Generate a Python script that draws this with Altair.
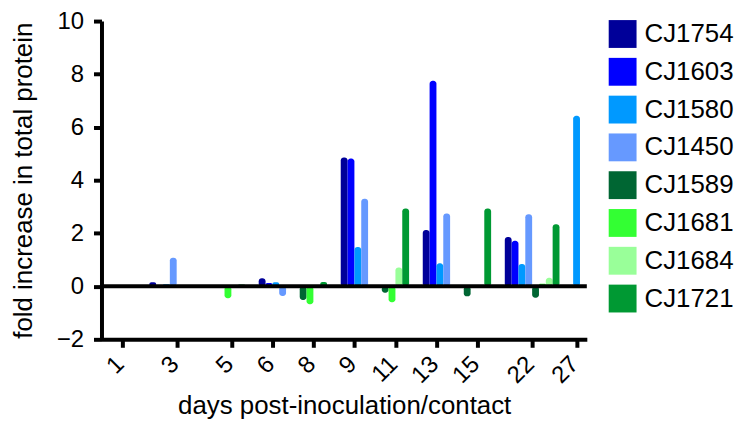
import altair as alt
import pandas as pd

days = ["1", "3", "5", "6", "8", "9", "11", "13", "15", "22", "27"]
series = ["CJ1754", "CJ1603", "CJ1580", "CJ1450", "CJ1589", "CJ1681", "CJ1684", "CJ1721"]
colors = ["#000099", "#0000ff", "#0099ff", "#6699ff", "#006633", "#33ff33", "#99ff99", "#009933"]

N = None
# fold increase per day (None = not sampled that day)
cj1754 = [0, 0.15, N, 0.30, N, 4.86, N, 2.12, N, 1.86, N]
cj1603 = [0, 0.00, N, 0.12, N, 4.82, N, 7.75, N, 1.72, N]
cj1580 = [0, 0.08, N, 0.15, N, 1.48, N, 0.87, N, 0.84, 6.43]
cj1450 = [0, 1.08, N, -0.37, N, 3.30, N, 2.74, N, 2.72, N]
cj1589 = [N, 0, -0.05, N, -0.52, N, -0.24, N, -0.38, -0.43, N]
cj1681 = [N, 0, -0.45, N, -0.68, N, -0.60, N, 0.00, 0.10, N]
cj1684 = [N, 0, 0.02, N, 0.00, N, 0.71, N, -0.05, 0.32, N]
cj1721 = [N, 0, 0.07, N, 0.16, N, 2.93, N, 2.93, 2.34, N]
all_vals = [cj1754, cj1603, cj1580, cj1450, cj1589, cj1681, cj1684, cj1721]

# lay bars side by side, one slot per sampled series, gap of 2 slots between days
rows = []
tick_pos = []
cursor = 0
for i, d in enumerate(days):
    start = cursor
    for s, vals in zip(series, all_vals):
        v = vals[i]
        if v is None:
            continue
        rows.append(dict(day=d, series=s, value=v, pos=cursor))
        cursor += 1
    tick_pos.append((start + cursor) / 2)
    cursor += 2

df = pd.DataFrame(rows)

label_expr = ""
for p, d in zip(tick_pos, days):
    label_expr += f"datum.value == {p} ? '{d}' : "
label_expr += "''"

FONT = "Liberation Sans"

bars = alt.Chart(df).mark_bar(cornerRadius=3).transform_calculate(
    end="datum.pos + 1"
).encode(
    x=alt.X("pos:Q",
            scale=alt.Scale(domain=[-1, 70], nice=False, zero=False),
            axis=alt.Axis(values=tick_pos, labelExpr=label_expr, labelAngle=-45,
                          labelAlign="right", labelBaseline="middle",
                          labelFontSize=24, labelPadding=13, labelOffset=-2,
                          tickSize=8, tickWidth=4,
                          domainWidth=4, grid=False,
                          title="days post-inoculation/contact", titleFontSize=26,
                          titlePadding=5)),
    x2="end:Q",
    y=alt.Y("value:Q",
            scale=alt.Scale(domain=[-2, 10], nice=False),
            axis=alt.Axis(values=[-2, 0, 2, 4, 6, 8, 10], labelFontSize=24,
                          labelPadding=10, tickSize=8, tickWidth=4, domainWidth=4,
                          grid=False, title="fold increase in total protein",
                          titleFontSize=26, titlePadding=20)),
    y2=alt.datum(0),
    color=alt.Color("series:N",
                    scale=alt.Scale(domain=series, range=colors),
                    sort=series,
                    legend=alt.Legend(orient="none", legendX=510, legendY=-1, title=None,
                                      symbolType="square", symbolSize=784,
                                      symbolStrokeWidth=0, symbolOpacity=1,
                                      labelFontSize=26, labelFont=FONT,
                                      rowPadding=10, labelOffset=8, padding=0)),
)

zero = alt.Chart(pd.DataFrame({"y": [0]})).mark_rule(color="black", strokeWidth=4).encode(
    y="y:Q"
)

chart = alt.layer(bars, zero).properties(
    width=488, height=320,
    autosize=alt.AutoSizeParams(type="none"),
    padding={"left": 94, "top": 12, "right": 150, "bottom": 85},
).configure_view(stroke=None).configure_axis(
    labelFont=FONT, titleFont=FONT, labelColor="black", titleColor="black",
    domainColor="black", tickColor="black", titleFontWeight="normal",
).configure_legend(labelColor="black")

chart.save("out.html", embed_options={"renderer": "svg", "actions": False})
